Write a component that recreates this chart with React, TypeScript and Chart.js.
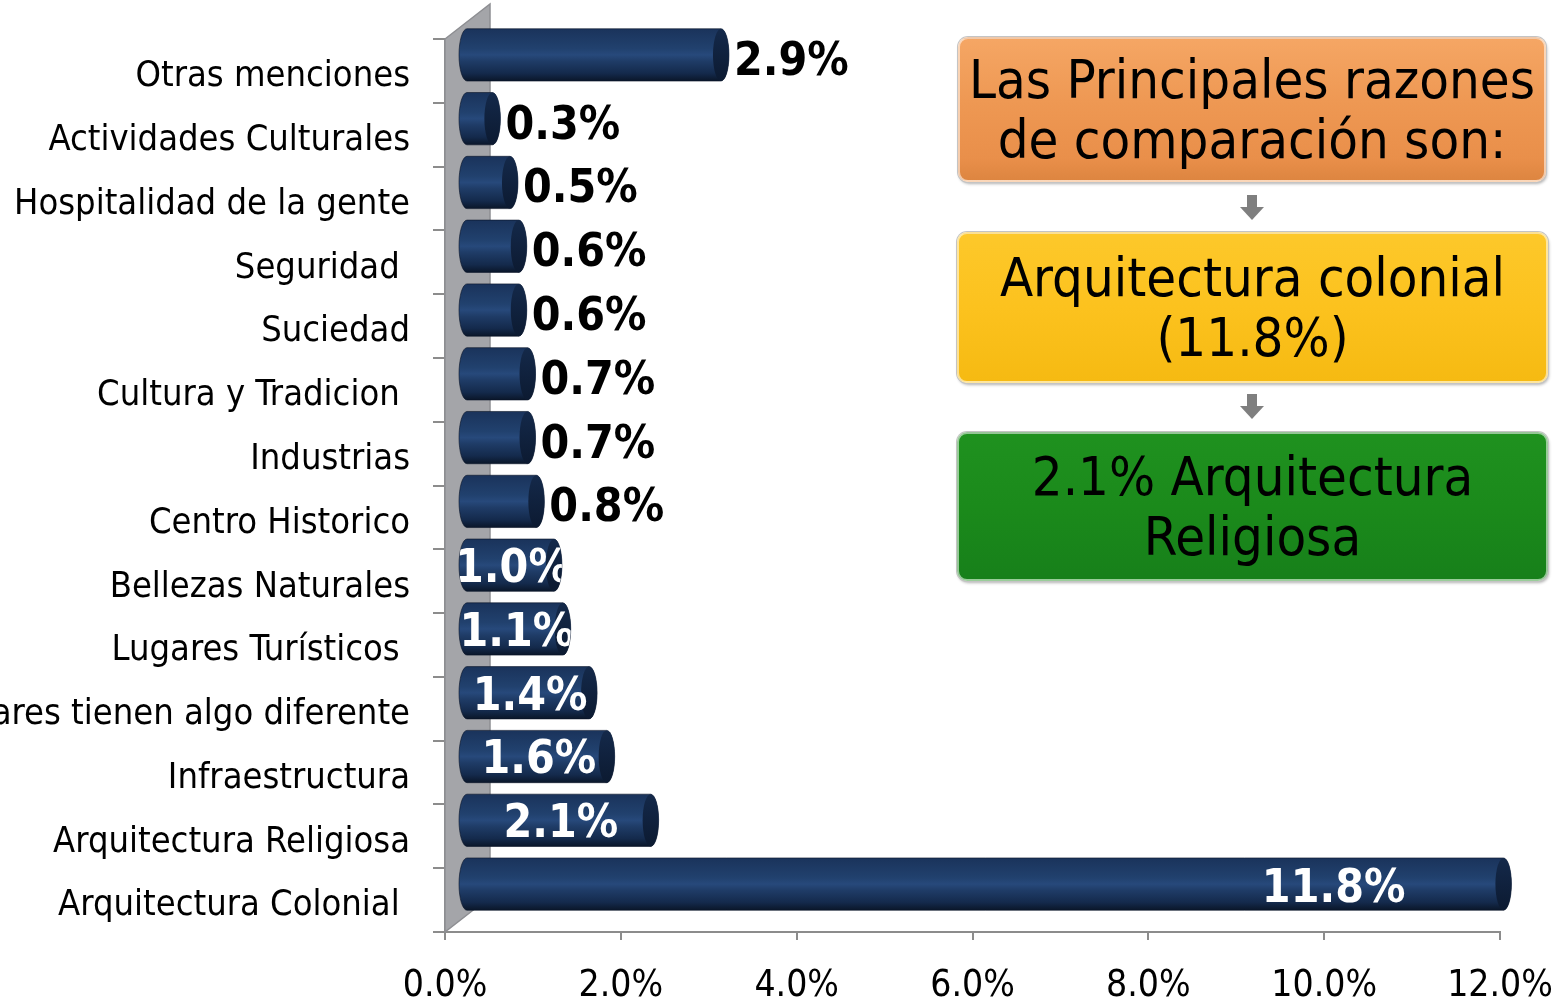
import React, { useEffect, useRef } from 'react';
import { Chart, registerables } from 'chart.js';

Chart.register(...registerables);

const categories = [
  'Otras menciones',
  'Actividades Culturales',
  'Hospitalidad de la gente',
  'Seguridad ',
  'Suciedad',
  'Cultura y Tradicion ',
  'Industrias',
  'Centro Historico',
  'Bellezas Naturales',
  'Lugares Turísticos ',
  'Los lugares tienen algo diferente',
  'Infraestructura',
  'Arquitectura Religiosa',
  'Arquitectura Colonial ',
];
const values = [2.9, 0.3, 0.5, 0.6, 0.6, 0.7, 0.7, 0.8, 1.0, 1.1, 1.4, 1.6, 2.1, 11.8];
const valueLabels = ['2.9%', '0.3%', '0.5%', '0.6%', '0.6%', '0.7%', '0.7%', '0.8%', '1.0%', '1.1%', '1.4%', '1.6%', '2.1%', '11.8%'];
// where each value label sits: outside the bar end, centred in the bar, or inside the bar end
const labelPlacement = ['out', 'out', 'out', 'out', 'out', 'out', 'out', 'out', 'in', 'in', 'in', 'in', 'in', 'end'];
const xMin = 0;
const xMax = 12;
const xStep = 2;

const flowTitle = ['Las Principales razones', 'de comparación son:'];
const flowFirst = ['Arquitectura colonial', '(11.8%)'];
const flowSecond = ['2.1% Arquitectura', 'Religiosa'];

const FONT = '"DejaVu Sans Condensed", "DejaVu Sans", sans-serif';
const WALL_DX = 45;
const WALL_DY = 35;
const BAR_DX = 21;
const BAR_DY = -16;
const CAP = 8;

function cylPath(ctx: CanvasRenderingContext2D, x0: number, x1: number, yc: number, h: number) {
  const top = yc - h / 2;
  const bottom = yc + h / 2;
  ctx.beginPath();
  ctx.moveTo(x1, top);
  ctx.lineTo(x0, top);
  ctx.ellipse(x0, yc, CAP, h / 2, 0, -Math.PI / 2, Math.PI / 2, true);
  ctx.lineTo(x1, bottom);
  ctx.ellipse(x1, yc, CAP, h / 2, 0, Math.PI / 2, -Math.PI / 2, true);
  ctx.closePath();
}

const cylinderPlugin = {
  id: 'cylinder3d',
  beforeDatasetsDraw(chart: any) {
    const { ctx, chartArea } = chart;
    const { left, top, bottom } = chartArea;
    ctx.save();
    ctx.beginPath();
    ctx.moveTo(left, top);
    ctx.lineTo(left + WALL_DX, top - WALL_DY);
    ctx.lineTo(left + WALL_DX, bottom - WALL_DY);
    ctx.lineTo(left, bottom);
    ctx.closePath();
    ctx.fillStyle = '#a4a5a9';
    ctx.fill();
    ctx.strokeStyle = '#8d8e92';
    ctx.lineWidth = 1.5;
    ctx.stroke();
    ctx.restore();
  },
  afterDatasetsDraw(chart: any) {
    const { ctx } = chart;
    const meta = chart.getDatasetMeta(0);
    meta.data.forEach((el: any, i: number) => {
      const p = el.getProps(['x', 'y', 'base', 'height'], true);
      const x0 = p.base + BAR_DX;
      const x1 = p.x + BAR_DX;
      const yc = p.y + BAR_DY;
      const h = p.height;
      ctx.save();
      const g = ctx.createLinearGradient(0, yc - h / 2, 0, yc + h / 2);
      g.addColorStop(0, '#1a335b');
      g.addColorStop(0.38, '#21416e');
      g.addColorStop(0.5, '#27497b');
      g.addColorStop(0.62, '#1f3c67');
      g.addColorStop(0.85, '#142a4c');
      g.addColorStop(1, '#0a1629');
      cylPath(ctx, x0, x1, yc, h);
      ctx.fillStyle = g;
      ctx.fill();
      ctx.strokeStyle = 'rgba(10,20,40,0.6)';
      ctx.lineWidth = 1;
      ctx.stroke();
      ctx.beginPath();
      ctx.ellipse(x1, yc, CAP, h / 2, 0, 0, Math.PI * 2);
      const cg = ctx.createLinearGradient(0, yc - h / 2, 0, yc + h / 2);
      cg.addColorStop(0, '#14294a');
      cg.addColorStop(1, '#0c1a31');
      ctx.fillStyle = cg;
      ctx.fill();
      ctx.restore();

      const txt = valueLabels[i];
      const place = labelPlacement[i];
      ctx.save();
      ctx.font = `bold 46px ${FONT}`;
      ctx.textBaseline = 'middle';
      if (place === 'out') {
        ctx.fillStyle = '#000';
        ctx.textAlign = 'left';
        ctx.fillText(txt, x1 + CAP + 5, yc + 8);
      } else {
        cylPath(ctx, x0, x1, yc, h);
        ctx.clip();
        ctx.fillStyle = '#fff';
        if (place === 'in') {
          ctx.textAlign = 'center';
          ctx.fillText(txt, (x0 + x1) / 2 + 2, yc + 5);
        } else {
          ctx.textAlign = 'right';
          ctx.fillText(txt, x1 - 98, yc + 6);
        }
      }
      ctx.restore();
    });
  },
};

function Arrow({ top }: { top: number }) {
  return (
    <svg style={{ position: 'absolute', left: 1240, top, width: 24, height: 26 }} width={24} height={26}>
      <rect x={7} y={0} width={10} height={12} fill="#7f7f7f" />
      <polygon points="0,12 24,12 12,25" fill="#7f7f7f" />
    </svg>
  );
}

function Box({ left, top, width, height, bg, lines }: { left: number; top: number; width: number; height: number; bg: string; lines: string[] }) {
  return (
    <div
      style={{
        position: 'absolute',
        left,
        top,
        width,
        height,
        boxSizing: 'border-box',
        borderRadius: 10,
        background: bg,
        border: '2px solid rgba(255,255,255,0.55)',
        boxShadow: '0 0 0 1px #c4c4c4, 1px 2px 3px rgba(0,0,0,0.3)',
        display: 'flex',
        flexDirection: 'column',
        alignItems: 'center',
        justifyContent: 'center',
        fontFamily: FONT,
        fontSize: 54,
        lineHeight: '60px',
        color: '#000',
        whiteSpace: 'nowrap',
        textAlign: 'center',
      }}
    >
      {lines.map((l, i) => (
        <div key={i}>{l}</div>
      ))}
    </div>
  );
}

export default function App() {
  const ref = useRef<HTMLCanvasElement | null>(null);
  useEffect(() => {
    if (!ref.current) return;
    const chart = new Chart(ref.current, {
      type: 'bar',
      data: {
        labels: categories,
        datasets: [
          {
            data: values,
            backgroundColor: 'rgba(0,0,0,0)',
            borderWidth: 0,
            barPercentage: 0.82,
            categoryPercentage: 1,
          },
        ],
      },
      plugins: [cylinderPlugin],
      options: {
        responsive: false,
        animation: false,
        indexAxis: 'y',
        layout: { padding: { left: 0, right: 65, top: 39, bottom: 0 } },
        plugins: { legend: { display: false }, tooltip: { enabled: false } },
        scales: {
          x: {
            min: xMin,
            max: xMax,
            ticks: {
              stepSize: xStep,
              callback: (v: any) => Number(v).toFixed(1) + '%',
              font: { family: FONT, size: 37 },
              color: '#000',
              padding: 24,
              autoSkip: false,
              maxRotation: 0,
            },
            grid: { drawOnChartArea: false, drawTicks: true, tickLength: 8, color: '#8c8c8c', lineWidth: 2 },
            border: { display: true, color: '#8c8c8c', width: 2 },
            afterFit: (s: any) => {
              s.height = 69;
              s.paddingLeft = 0;
              s.paddingRight = 0;
            },
          },
          y: {
            ticks: { font: { family: FONT, size: 36 }, color: '#000', padding: 23, autoSkip: false, labelOffset: 6 },
            grid: { drawOnChartArea: false, drawTicks: true, tickLength: 12, color: '#8c8c8c', lineWidth: 2, offset: true },
            border: { display: true, color: '#8c8c8c', width: 2 },
            afterFit: (s: any) => {
              s.width = 445;
              s.paddingTop = 0;
              s.paddingBottom = 0;
            },
          },
        },
      } as any,
    });
    return () => chart.destroy();
  }, []);

  return (
    <div style={{ position: 'absolute', left: 0, top: 0, width: 1565, height: 1001, background: '#fff', overflow: 'hidden' }}>
      <canvas ref={ref} width={1565} height={1001} style={{ position: 'absolute', left: 0, top: 0, width: 1565, height: 1001 }} />
      <Box left={958} top={37} width={588} height={145} bg="linear-gradient(#f5a664, #ee9853 45%, #e98f4a 85%, #dd8540)" lines={flowTitle} />
      <Arrow top={195} />
      <Box left={957} top={232} width={591} height={151} bg="linear-gradient(#fdc82a, #fcc21e 50%, #f6ba12)" lines={flowFirst} />
      <Arrow top={394} />
      <Box left={957} top={432} width={591} height={149} bg="linear-gradient(#1f911f, #1b8a1b 50%, #17801a)" lines={flowSecond} />
    </div>
  );
}
